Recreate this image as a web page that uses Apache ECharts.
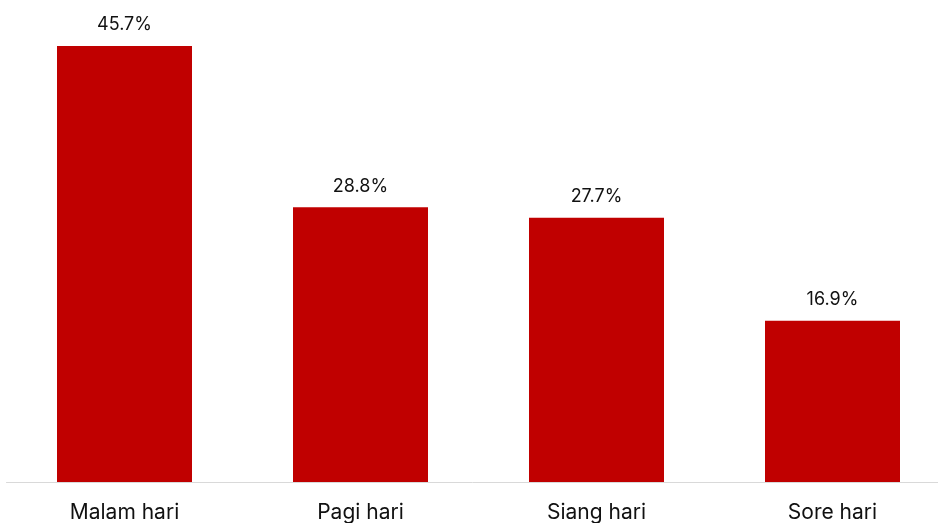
<!DOCTYPE html>
<html><head><meta charset="utf-8">
<script src="https://cdn.jsdelivr.net/npm/echarts@6/dist/echarts.min.js"></script>
<style>html,body{margin:0;padding:0;background:#fff}#c{width:938px;height:523px}</style>
</head><body><div id="c"></div>
<script>
const categories = ["Malam hari", "Pagi hari", "Siang hari", "Sore hari"];
const values = [45.7, 28.8, 27.7, 16.9];
const yMax = 50;

const chart = echarts.init(document.getElementById('c'), null, {renderer: 'canvas'});
chart.setOption({
  animation: false,
  grid: {left: 6.5, right: -12.5, top: 5, bottom: 41, containLabel: false, outerBoundsMode: 'none'},
  xAxis: {
    type: 'category', data: categories,
    axisLine: {lineStyle: {color: '#d9d9d9', width: 1}},
    axisTick: {show: false},
    axisLabel: {color: '#111', fontSize: 21, fontFamily: 'Inter, "Open Sans", sans-serif', margin: 20}
  },
  yAxis: {type: 'value', min: 0, max: yMax, show: false, splitLine: {show: false}},
  series: [{
    type: 'bar', data: values, barWidth: 135,
    itemStyle: {color: '#C00000'},
    label: {show: true, position: 'top', distance: 12, formatter: p => p.value.toFixed(1) + '%',
      color: '#111', fontSize: 18, fontFamily: 'Inter, "Open Sans", sans-serif'}
  }]
});
</script></body></html>
